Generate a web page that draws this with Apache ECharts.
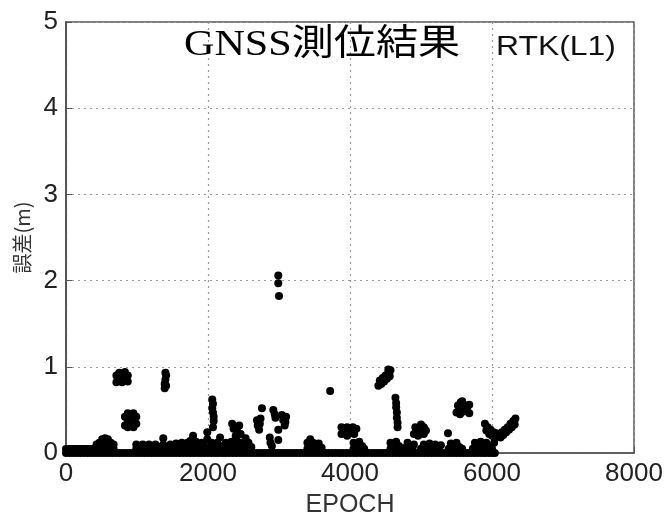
<!DOCTYPE html>
<html><head><meta charset="utf-8">
<script src="https://cdn.jsdelivr.net/npm/echarts@6/dist/echarts.min.js"></script>
<style>html,body{margin:0;padding:0;background:#fff}#c{width:666px;height:519px}</style>
</head><body><div id="c"></div>
<script>
// x-axis ticks and y-axis ticks
const xTicks = [0, 2000, 4000, 6000, 8000];
const yTicks = [0, 1, 2, 3, 4, 5];

// fixed solutions lying on zero error
const baselineEpochs = [0,50,100,150,200,250,300,350,400,450,500,550,600,650,700,750,800,850,900,950,1000,1050,1100,1150,1200,1250,1300,1350,1400,1450,1500,1550,1600,1650,1700,1750,1800,1850,1900,1950,2000,2050,2100,2150,2200,2250,2300,2350,2400,2450,2500,2550,2600,2650,2700,2750,2800,2850,2900,2950,3000,3050,3100,3150,3200,3250,3300,3350,3400,3450,3500,3550,3600,3650,3700,3750,3800,3850,3900,3950,4000,4050,4100,4150,4200,4250,4300,4350,4400,4450,4500,4550,4600,4650,4700,4750,4800,4850,4900,4950,5000,5050,5100,5150,5200,5250,5300,5350,5400,5450,5500,5550,5600,5650,5700,5750,5800,5850,5900,5950,6000,6040];

// initial band slightly above zero
const startBandEpochs = [0,30,60,90,120,150,180,210,240,270,300,330,360,390,420];
const startBandValue = 0.045;

// low-error lumps near the axis [epoch, error(m)]
const lowLumps = [
  [430,0.05],[430,0.1],[470,0.06],[470,0.12],[510,0.05],[510,0.11],[510,0.16],[550,0.06],[550,0.12],[550,0.17],[590,0.05],[590,0.11],[590,0.16],[630,0.06],[630,0.12],[670,0.05],[670,0.1],
  [990,0.05],[990,0.1],[1040,0.06],[1080,0.05],[1080,0.1],[1130,0.06],[1170,0.05],[1170,0.1],[1220,0.06],[1260,0.05],[1260,0.1],[1300,0.07],[1340,0.05],[1370,0.1],[1370,0.17],[1410,0.06],
  [1470,0.05],[1470,0.1],[1510,0.06],[1550,0.05],[1550,0.11],[1590,0.06],[1630,0.05],[1630,0.12],[1670,0.07],[1710,0.05],[1710,0.12],[1750,0.06],[1750,0.14],[1790,0.08],[1790,0.2],[1830,0.05],[1830,0.13],[1870,0.08],[1910,0.05],[1910,0.12],[1950,0.08],[1990,0.05],[1990,0.16],[1990,0.24],
  [2050,0.05],[2050,0.12],[2090,0.06],[2130,0.05],[2130,0.12],[2170,0.06],[2170,0.18],[2210,0.08],[2250,0.05],[2250,0.12],[2290,0.07],[2330,0.05],[2330,0.13],[2370,0.08],[2410,0.05],[2410,0.14],[2450,0.09],[2490,0.05],[2490,0.12],[2530,0.07],[2530,0.17],[2570,0.05],[2570,0.12],[2610,0.07],
  [2870,0.18],[2880,0.12],[2900,0.08],[2990,0.15],
  [3400,0.05],[3400,0.12],[3440,0.08],[3440,0.16],[3480,0.05],[3480,0.12],[3520,0.08],[3560,0.05],[3560,0.11],[3600,0.06],
  [4050,0.05],[4050,0.12],[4090,0.08],[4130,0.05],[4130,0.13],[4170,0.08],[4200,0.05],
  [4570,0.05],[4570,0.12],[4610,0.08],[4650,0.05],[4650,0.13],[4690,0.08],[4720,0.05],
  [4780,0.06],[4810,0.12],[4840,0.08],[4880,0.05],[4900,0.1],
  [5000,0.05],[5040,0.1],[5080,0.06],[5120,0.11],[5160,0.06],[5200,0.1],[5240,0.05],[5280,0.09],
  [5390,0.05],[5420,0.11],[5460,0.06],[5500,0.12],[5540,0.07],[5580,0.05],
  [5730,0.05],[5760,0.12],[5800,0.07],[5840,0.13],[5880,0.06],[5920,0.12],[5960,0.07],[6000,0.05],[6030,0.12]
];

// float-solution clusters [epoch, error(m)]
const floatClusters = [
  [710,0.82],[710,0.9],[750,0.85],[750,0.93],[790,0.82],[790,0.9],[830,0.86],[830,0.94],[870,0.83],[870,0.9],
  [830,0.32],[830,0.42],[870,0.3],[870,0.38],[870,0.46],[910,0.33],[910,0.43],[950,0.3],[950,0.38],[950,0.46],[990,0.34],[990,0.42],
  [1390,0.75],[1390,0.8],[1400,0.85],[1410,0.9],[1410,0.78],[1400,0.93],
  [2060,0.62],[2070,0.57],[2060,0.52],[2070,0.47],[2080,0.42],[2080,0.37],[2070,0.3],
  [2340,0.34],[2360,0.28],[2400,0.3],[2420,0.24],[2440,0.32],[2460,0.22],[2390,0.2],
  [2760,0.52],[2690,0.38],[2700,0.32],[2720,0.27],[2740,0.4],[2730,0.34],
  [2920,0.5],[2940,0.45],[2950,0.41],
  [3040,0.44],[3060,0.38],[3080,0.32],[3100,0.42],[3090,0.36],[2990,0.27],
  [3720,0.72],
  [3880,0.22],[3880,0.3],[3920,0.26],[3960,0.2],[3960,0.3],[4000,0.25],[4040,0.3],[4060,0.22],[4090,0.28],
  [4400,0.78],[4420,0.84],[4440,0.8],[4460,0.87],[4480,0.83],[4500,0.9],[4520,0.86],[4540,0.93],[4560,0.89],[4570,0.96],[4540,0.97],
  [4640,0.64],[4650,0.58],[4650,0.53],[4660,0.47],[4660,0.41],[4670,0.35],[4670,0.3],
  [4900,0.22],[4920,0.3],[4960,0.2],[4960,0.28],[5000,0.24],[5000,0.33],[5040,0.22],[5040,0.3],[5070,0.26],
  [5380,0.23],
  [5500,0.47],[5520,0.55],[5550,0.45],[5560,0.52],[5580,0.6],[5600,0.48],[5620,0.55],[5650,0.5],[5680,0.46],[5680,0.56],[5560,0.59],
  [5900,0.34],[5940,0.3],[5980,0.27],[6020,0.24],[6060,0.23],[6100,0.22],[6140,0.24],[6180,0.27],[6220,0.3],[6260,0.34],[6300,0.37],[6330,0.4],
  [5920,0.26],[5960,0.22],[6000,0.2],[6040,0.18],[6080,0.2],[6120,0.18],[6160,0.21],[6200,0.24],[6240,0.27],[6280,0.3],[6320,0.33]
];

// outliers around 2 m
const outliers = [[2990,2.06],[2990,1.97],[3000,1.82]];

const titleText = 'GNSS測位結果';
const subtitleText = 'RTK(L1)';

const allPoints = []
  .concat(baselineEpochs.map(e => [e, 0]))
  .concat(startBandEpochs.map(e => [e, startBandValue]))
  .concat(lowLumps, floatClusters, outliers);

const chart = echarts.init(document.getElementById('c'));
const labelFont = { fontFamily: 'Liberation Sans, Arial, sans-serif', fontSize: 26, color: '#222' };
chart.setOption({
  animation: false,
  backgroundColor: '#fff',
  graphic: [
    { type: 'text', x: 184, y: 28, scaleX: 1.17, z: 10,
      style: { text: titleText, font: '36px "Liberation Serif", "Noto Sans CJK JP", serif', fill: '#000', verticalAlign: 'top', align: 'left' } },
    { type: 'text', x: 496, y: 34, scaleX: 1.18, z: 10,
      style: { text: subtitleText, font: '27px "Liberation Sans", Arial, sans-serif', fill: '#111', verticalAlign: 'top', align: 'left' } }
  ],
  grid: { left: 66, right: 32, top: 22, bottom: 66, show: true, borderColor: '#555', borderWidth: 1.5,
          containLabel: false, outerBoundsMode: 'none' },
  xAxis: {
    type: 'value', min: xTicks[0], max: xTicks[xTicks.length - 1], interval: 2000,
    name: 'EPOCH', nameLocation: 'middle', nameGap: 40,
    nameTextStyle: { fontFamily: 'Liberation Sans, Arial, sans-serif', fontSize: 25, color: '#333' },
    axisLine: { show: true, lineStyle: { color: '#555', width: 1.5 } },
    axisTick: { show: true, inside: true, length: 6, lineStyle: { color: '#555' } },
    axisLabel: Object.assign({ margin: 8, formatter: v => String(v) }, labelFont),
    splitLine: { show: true, lineStyle: { color: '#999', type: [2, 4], width: 1.2 } }
  },
  yAxis: {
    type: 'value', min: yTicks[0], max: yTicks[yTicks.length - 1], interval: 1,
    name: '誤差(m)', nameLocation: 'middle', nameGap: 33, nameRotate: 90,
    nameTextStyle: { fontFamily: 'Noto Sans CJK JP, sans-serif', fontSize: 20, color: '#333' },
    axisLine: { show: true, lineStyle: { color: '#555', width: 2 } },
    axisTick: { show: true, inside: true, length: 6, lineStyle: { color: '#555' } },
    axisLabel: Object.assign({ margin: 8, formatter: v => String(v) }, labelFont),
    splitLine: { show: true, lineStyle: { color: '#999', type: [2, 4], width: 1.2 } }
  },
  series: [{
    type: 'scatter', data: allPoints, symbol: 'circle', symbolSize: 8,
    itemStyle: { color: '#000', opacity: 1 }, z: 5
  }]
});
</script></body></html>
